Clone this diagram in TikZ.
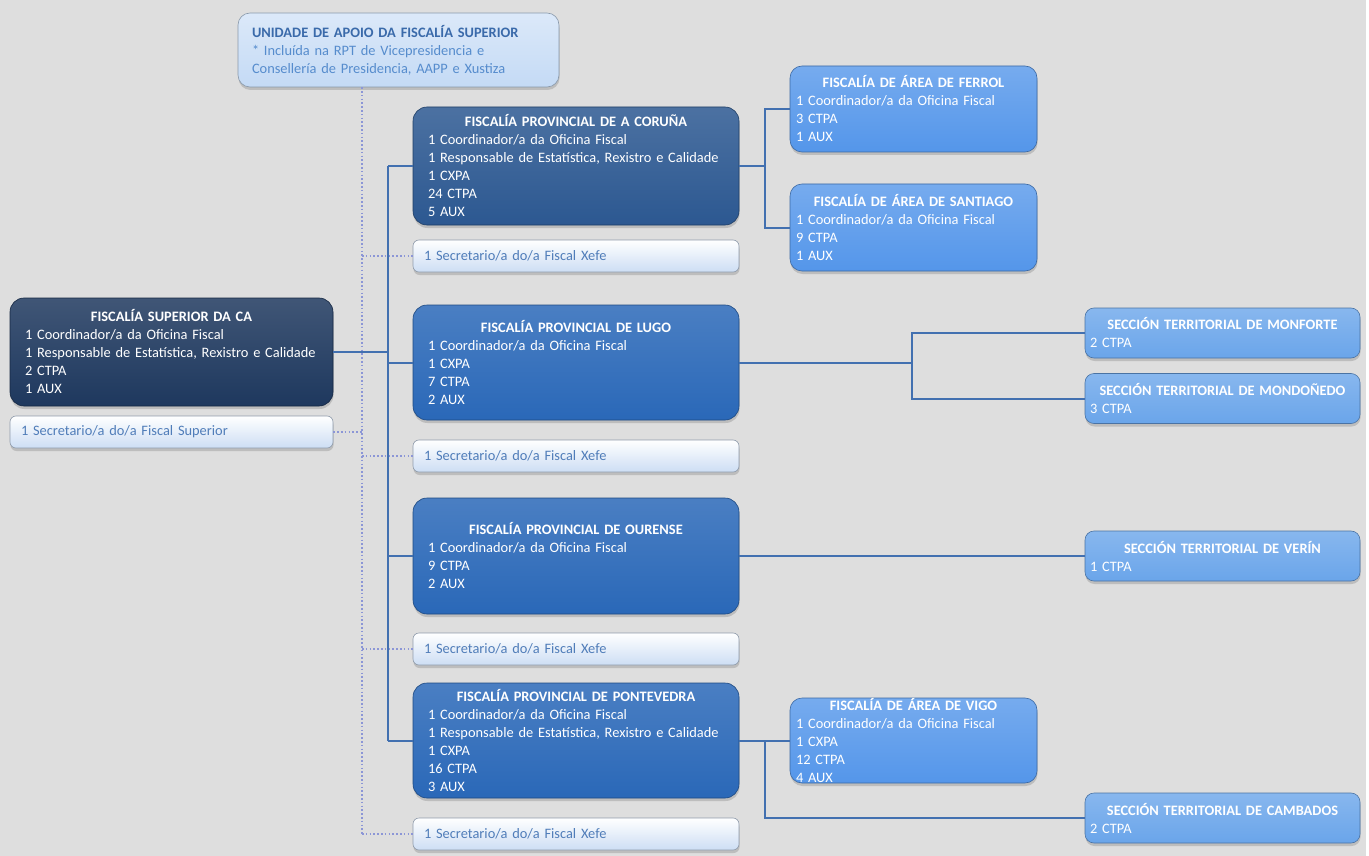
\documentclass[tikz,border=0pt]{standalone}
\usepackage{fontspec}
\setmainfont{Carlito}
\usetikzlibrary{shadows}
\definecolor{fsnavy}{RGB}{30,56,94}
\definecolor{corblue}{RGB}{44,88,145}
\definecolor{provblue}{RGB}{42,104,184}
\definecolor{areablue}{RGB}{84,150,234}
\definecolor{seccblue}{RGB}{106,165,234}
\definecolor{secrfill}{RGB}{205,222,244}
\definecolor{secrtext}{RGB}{80,125,185}
\definecolor{unitfill}{RGB}{196,218,245}
\definecolor{unittitle}{RGB}{58,106,170}
\definecolor{unittext}{RGB}{86,140,205}
\definecolor{linecol}{RGB}{66,112,176}
\definecolor{dotcol}{RGB}{140,150,214}
\definecolor{bggray}{RGB}{222,222,222}
\newcommand{\boxhead}[1]{\makebox[\linewidth]{\bfseries #1}}

\begin{document}
\begin{tikzpicture}[x=1pt, y=-1pt, font=\fontsize{14.4}{18}\selectfont]

			\tikzstyle{box}=[rectangle, rounded corners=14pt, align=left, inner ysep=0pt, line width=0.6pt, drop shadow={shadow xshift=0.5pt, shadow yshift=-3pt, opacity=0.35}]
			\tikzstyle{sup}=[box, top color=fsnavy!85!white, bottom color=fsnavy, draw=fsnavy!70!black, text=white, inner xsep=15pt, text width=293pt]
			\tikzstyle{provdark}=[box, top color=corblue!85!white, bottom color=corblue, draw=corblue!70!black, text=white, inner xsep=15pt, text width=296pt]
			\tikzstyle{prov}=[box, top color=provblue!85!white, bottom color=provblue, draw=provblue!70!black, text=white, inner xsep=15pt, text width=296pt]
			\tikzstyle{area}=[box, rounded corners=12pt, top color=areablue!80!white, bottom color=areablue, draw=areablue!70!black, text=white, inner xsep=6pt, text width=235pt, minimum width=247pt]
			\tikzstyle{areatext}=[align=left, text=white, inner sep=0pt, text width=235pt]
			\tikzstyle{secc}=[box, rounded corners=9pt, top color=seccblue!80!white, bottom color=seccblue, draw=seccblue!70!black, text=white, inner xsep=5pt, text width=265pt, minimum height=50pt]
			\tikzstyle{secr}=[box, rounded corners=6pt, top color=white, bottom color=secrfill, draw=secrfill!70!black, text=secrtext, inner xsep=11pt, minimum height=32pt]
			\tikzstyle{unit}=[box, rounded corners=12pt, top color=unitfill!60!white, bottom color=unitfill, draw=unitfill!70!black, text=unittext, inner xsep=14pt, text width=293pt, minimum height=74pt]
			\tikzstyle{conn}=[draw=linecol, line width=2pt]
			\tikzstyle{dotconn}=[draw=dotcol, line width=1.6pt, dash pattern=on 1.6pt off 2.2pt]

			\fill[bggray] (0,0) rectangle (1366,856);
			\useasboundingbox (0,0) rectangle (1369,856);

			% support unit and superior office
			\node at (398.5,50) (unidade) [unit] {\textcolor{unittitle}{\bfseries UNIDADE DE APOIO DA FISCALÍA SUPERIOR}\\ {*} Incluída na RPT de Vicepresidencia e\\ Consellería de Presidencia, AAPP e Xustiza};
			\node at (171.5,352) (superior) [sup, minimum height=108pt] {\boxhead{FISCALÍA SUPERIOR DA CA}\\ 1 Coordinador/a da Oficina Fiscal\\ 1 Responsable de Estatística, Rexistro e Calidade\\ 2 CTPA\\ 1 AUX};
			\node at (171.5,432) (supsecr) [secr, text width=301pt] {1 Secretario/a do/a Fiscal Superior};

			% provincial offices
			\node at (576,166) (coruna) [provdark, minimum height=118pt] {\boxhead{FISCALÍA PROVINCIAL DE A CORUÑA}\\ 1 Coordinador/a da Oficina Fiscal\\ 1 Responsable de Estatística, Rexistro e Calidade\\ 1 CXPA\\ 24 CTPA\\ 5 AUX};
			\node at (576,362.5) (lugo) [prov, minimum height=115pt] {\boxhead{FISCALÍA PROVINCIAL DE LUGO}\\ 1 Coordinador/a da Oficina Fiscal\\ 1 CXPA\\ 7 CTPA\\ 2 AUX};
			\node at (576,556) (ourense) [prov, minimum height=116pt] {\boxhead{FISCALÍA PROVINCIAL DE OURENSE}\\ 1 Coordinador/a da Oficina Fiscal\\ 9 CTPA\\ 2 AUX};
			\node at (576,740.5) (pontevedra) [prov, minimum height=115pt] {\boxhead{FISCALÍA PROVINCIAL DE PONTEVEDRA}\\ 1 Coordinador/a da Oficina Fiscal\\ 1 Responsable de Estatística, Rexistro e Calidade\\ 1 CXPA\\ 16 CTPA\\ 3 AUX};

			\node at (576,256) (corsecr) [secr, text width=304pt] {1 Secretario/a do/a Fiscal Xefe};
			\node at (576,456) (lugsecr) [secr, text width=304pt] {1 Secretario/a do/a Fiscal Xefe};
			\node at (576,649) (oursecr) [secr, text width=304pt] {1 Secretario/a do/a Fiscal Xefe};
			\node at (576,834) (ponsecr) [secr, text width=304pt] {1 Secretario/a do/a Fiscal Xefe};

			% area offices and territorial sections
			\node at (913.5,109) (ferrol) [area, minimum height=86pt] {\boxhead{FISCALÍA DE ÁREA DE FERROL}\\ 1 Coordinador/a da Oficina Fiscal\\ 3 CTPA\\ 1 AUX};
			\node at (913.5,227.5) (santiago) [area, minimum height=87pt] {\boxhead{FISCALÍA DE ÁREA DE SANTIAGO}\\ 1 Coordinador/a da Oficina Fiscal\\ 9 CTPA\\ 1 AUX};
			\node at (913.5,740.5) (vigo) [area, minimum height=85pt] {};
			\node at (vigo.center) (vigotext) [areatext] {\boxhead{FISCALÍA DE ÁREA DE VIGO}\\ 1 Coordinador/a da Oficina Fiscal\\ 1 CXPA\\ 12 CTPA\\ 4 AUX};

			\node at (1222.5,333) (monforte) [secc] {\boxhead{SECCIÓN TERRITORIAL DE MONFORTE}\\ 2 CTPA};
			\node at (1222.5,398.5) (mondonedo) [secc] {\boxhead{SECCIÓN TERRITORIAL DE MONDOÑEDO}\\ 3 CTPA};
			\node at (1222.5,556) (verin) [secc] {\boxhead{SECCIÓN TERRITORIAL DE VERÍN}\\ 1 CTPA};
			\node at (1222.5,818) (cambados) [secc] {\boxhead{SECCIÓN TERRITORIAL DE CAMBADOS}\\ 2 CTPA};

			\coordinate (trunk) at (388,352);
			\coordinate (dotline) at (362,0);
			\coordinate (corjoin) at ([xshift=26pt]coruna.east);
			\coordinate (lugjoin) at ([xshift=173pt]lugo.east);
			\coordinate (ponjoin) at ([xshift=26pt]pontevedra.east);

			% solid lines
			\draw[conn] (superior.east) -- (trunk);
			\draw[conn] (trunk |- coruna.west) -- (trunk |- pontevedra.west);
			\foreach \n in {coruna, lugo, ourense, pontevedra}
				\draw[conn] (trunk |- \n.west) -- (\n.west);
			\draw[conn] (coruna.east) -- (corjoin);
			\draw[conn] (ferrol.west) -| (corjoin) |- (santiago.west);
			\draw[conn] (lugo.east) -- (lugjoin);
			\draw[conn] (monforte.west) -| (lugjoin) |- (mondonedo.west);
			\draw[conn] (ourense.east) -- (verin.west);
			\draw[conn] (pontevedra.east) -- (vigo.west);
			\draw[conn] (ponjoin) |- (cambados.west);

			% dotted lines
			\draw[dotconn] (dotline |- unidade.south) -- (dotline |- ponsecr.west);
			\foreach \n in {corsecr, lugsecr, oursecr, ponsecr}
				\draw[dotconn] (dotline |- \n.west) -- (\n.west);
			\draw[dotconn] (supsecr.east) -- (dotline |- supsecr.east);
		\end{tikzpicture}
\end{document}
